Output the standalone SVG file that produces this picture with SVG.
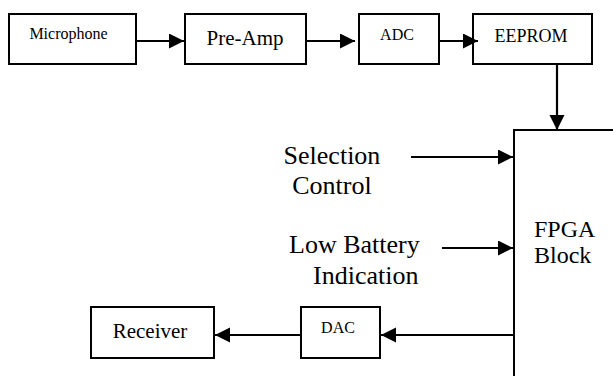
<svg xmlns="http://www.w3.org/2000/svg" width="613" height="376" viewBox="0 0 613 376">
<style>
.box{fill:#fff;stroke:#000;stroke-width:2}
.t{font-family:'Liberation Serif',Tinos,'Times New Roman',Times,'DejaVu Serif','Noto Serif',serif;fill:#000}
.c{stroke:#000;stroke-width:2.2;fill:none;marker-end:url(#ah)}
</style>
<defs>
<marker id="ah" markerUnits="userSpaceOnUse" markerWidth="16" markerHeight="16" refX="15" refY="7.5" orient="auto">
<path d="M0,0 L15,7.5 L0,15 z" fill="#000"/>
</marker>
</defs>
<rect width="613" height="376" fill="#fff"/>
<g id="microphone"><rect class="box" x="9" y="14" width="127" height="50"/><text class="t" x="68.5" y="39" font-size="16" text-anchor="middle">Microphone</text></g>
<g id="preamp"><rect class="box" x="185" y="14" width="121" height="50"/><text class="t" x="245" y="45" font-size="21" text-anchor="middle">Pre-Amp</text></g>
<g id="adc"><rect class="box" x="359" y="14" width="80" height="50"/><text class="t" x="397" y="40" font-size="16" text-anchor="middle">ADC</text></g>
<g id="eeprom"><rect class="box" x="473" y="14" width="119" height="50"/><text class="t" x="531" y="42" font-size="18" text-anchor="middle">EEPROM</text></g>
<g id="fpga"><rect class="box" x="514" y="130" width="120" height="270"/><text class="t" x="534" y="237" font-size="24">FPGA</text><text class="t" x="534" y="263" font-size="24">Block</text></g>
<g id="selection"><text class="t" x="332" y="164" font-size="26" text-anchor="middle">Selection</text><text class="t" x="332" y="194" font-size="26" text-anchor="middle">Control</text></g>
<g id="battery"><text class="t" x="289" y="253" font-size="26">Low Battery</text><text class="t" x="313" y="284" font-size="26">Indication</text></g>
<g id="dac"><rect class="box" x="301" y="307" width="79" height="51"/><text class="t" x="338" y="333" font-size="16" text-anchor="middle">DAC</text></g>
<g id="receiver"><rect class="box" x="91" y="307" width="123" height="51"/><text class="t" x="150" y="338" font-size="21" text-anchor="middle">Receiver</text></g>
<g id="connectors">
<line class="c" x1="136" y1="41" x2="184" y2="41"/>
<line class="c" x1="306" y1="41" x2="355" y2="41"/>
<line class="c" x1="439" y1="41" x2="478" y2="41"/>
<line class="c" x1="557" y1="64" x2="557" y2="130"/>
<line class="c" x1="411" y1="157" x2="513" y2="157"/>
<line class="c" x1="442" y1="248" x2="513" y2="248"/>
<line class="c" x1="514" y1="335" x2="381" y2="335"/>
<line class="c" x1="301" y1="335" x2="215" y2="335"/>
</g>
</svg>
